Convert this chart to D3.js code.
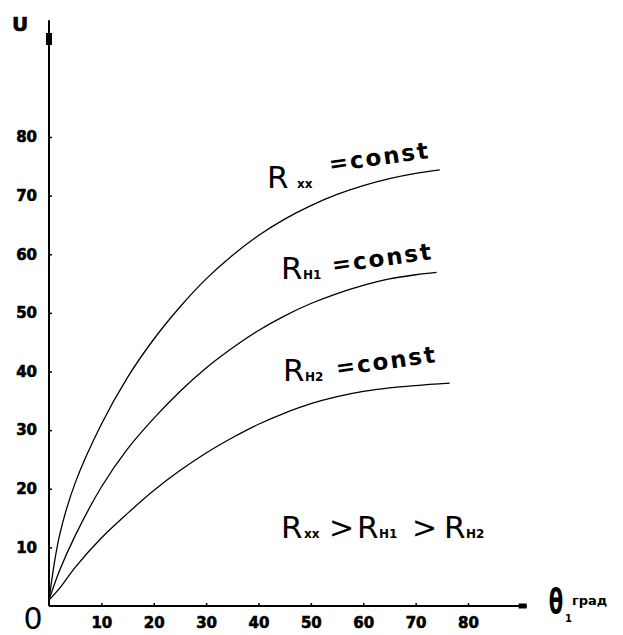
<!DOCTYPE html>
<html>
<head>
<meta charset="utf-8">
<script src="https://cdn.jsdelivr.net/npm/d3@7"></script>
<style>
  html, body { margin: 0; padding: 0; background: #fff; }
  svg { display: block; }
  text { fill: #000; }
</style>
</head>
<body>
<svg id="chart" width="623" height="635"></svg>
<script>
// ---- data ----
const xTicks = [10, 20, 30, 40, 50, 60, 70, 80];
const yTicks = [10, 20, 30, 40, 50, 60, 70, 80];

const thetaXX = [0, 2, 5, 10, 15, 20, 25, 30, 35, 40, 45, 50, 55, 60, 65, 70, 74.6];
const uXX     = [1, 12, 21, 31, 39, 45.5, 51, 55.8, 59.8, 63.2, 66, 68.3, 70.2, 71.7, 72.9, 73.8, 74.4];

const thetaH1 = [0, 2, 5, 10, 15, 20, 25, 30, 35, 40, 45, 50, 55, 60, 65, 70, 74];
const uH1     = [1, 6, 12, 20.3, 26.8, 32, 36.6, 40.6, 44, 47, 49.5, 51.6, 53.3, 54.7, 55.8, 56.5, 56.9];

const thetaH2 = [0, 2, 5, 10, 15, 20, 25, 30, 35, 40, 45, 50, 55, 60, 65, 70, 76.5];
const uH2     = [1, 3, 6.6, 11.6, 15.8, 19.7, 23.1, 26.1, 28.7, 31, 32.9, 34.5, 35.7, 36.6, 37.2, 37.6, 38];

const series = [
  { name: "Rхх", theta: thetaXX, u: uXX },
  { name: "Rн1", theta: thetaH1, u: uH1 },
  { name: "Rн2", theta: thetaH2, u: uH2 }
];

// ---- layout ----
const svg = d3.select("#chart");
const x = d3.scaleLinear().domain([0, 80]).range([49, 468]);
const y = d3.scaleLinear().domain([0, 80]).range([606, 137]);
const xAxisEnd = 91.2;
const yAxisEnd = 99.9;

svg.append("line")
  .attr("x1", x(0)).attr("x2", x(xAxisEnd))
  .attr("y1", y(0)).attr("y2", y(0))
  .attr("stroke", "#000").attr("stroke-width", 2);
svg.append("line")
  .attr("x1", x(0)).attr("x2", x(0))
  .attr("y1", y(0)).attr("y2", y(yAxisEnd))
  .attr("stroke", "#000").attr("stroke-width", 2);

svg.append("rect").attr("x", x(xAxisEnd) - 8).attr("y", y(0) - 2.5)
  .attr("width", 8).attr("height", 5).attr("fill", "#000");
svg.append("rect").attr("x", x(0) - 3).attr("y", 33)
  .attr("width", 6).attr("height", 12).attr("fill", "#000");

const gx = svg.append("g").attr("transform", `translate(0,${y(0)})`)
  .call(d3.axisBottom(x).tickValues(xTicks).tickSize(-3).tickSizeOuter(0).tickPadding(11));
gx.select(".domain").remove();
gx.selectAll("text").attr("font-family", "DejaVu Sans").attr("font-weight", "bold").attr("font-size", 15)
  .attr("stroke", "#000").attr("stroke-width", 0.6);
gx.selectAll("line").attr("stroke-width", 1.5);

const gy = svg.append("g").attr("transform", `translate(${x(0)},0)`)
  .call(d3.axisLeft(y).tickValues(yTicks).tickSize(-3).tickSizeOuter(0).tickPadding(12));
gy.select(".domain").remove();
gy.selectAll("text").attr("font-family", "DejaVu Sans").attr("font-weight", "bold").attr("font-size", 15)
  .attr("stroke", "#000").attr("stroke-width", 0.6);
gy.selectAll("line").attr("stroke-width", 1.5);

svg.append("text").attr("x", 33).attr("y", 629).attr("text-anchor", "middle")
  .attr("font-family", "DejaVu Sans").attr("font-size", 30).text("0");

svg.append("text").attr("x", 20).attr("y", 31).attr("text-anchor", "middle")
  .attr("font-family", "DejaVu Sans").attr("font-weight", "bold").attr("font-size", 20)
  .attr("stroke", "#000").attr("stroke-width", 0.6).text("U");

svg.append("text").attr("transform", "translate(556,614) scale(0.62,1.05)")
  .attr("text-anchor", "middle")
  .attr("font-family", "DejaVu Sans").attr("font-weight", "bold").attr("font-size", 34).text("θ");
svg.append("text").attr("x", 565).attr("y", 622)
  .attr("font-family", "DejaVu Sans").attr("font-weight", "bold").attr("font-size", 10).text("1");
svg.append("text").attr("x", 572).attr("y", 605)
  .attr("font-family", "DejaVu Sans").attr("font-weight", "bold").attr("font-size", 13).text("град");

const line = d3.line()
  .x(d => x(d[0])).y(d => y(d[1]))
  .curve(d3.curveCatmullRom.alpha(0.5));
svg.append("g").selectAll("path")
  .data(series)
  .join("path")
  .attr("d", s => line(s.theta.map((t, i) => [t, s.u[i]])))
  .attr("fill", "none").attr("stroke", "#000").attr("stroke-width", 1.3);

function rLabel(xr, yr, sub, subDx, xc, yc) {
  svg.append("text").attr("x", xr).attr("y", yr)
    .attr("font-family", "DejaVu Sans").attr("font-size", 31).text("R");
  svg.append("text").attr("x", xr + subDx).attr("y", yr)
    .attr("font-family", "DejaVu Sans").attr("font-weight", "bold").attr("font-size", 12).text(sub);
  svg.append("text").attr("transform", `translate(${xc},${yc}) rotate(-8)`)
    .attr("font-family", "DejaVu Sans").attr("font-weight", "bold").attr("font-size", 23)
    .attr("letter-spacing", 2).text("=const");
}
rLabel(267, 188, "хх", 30, 330, 172);
rLabel(281, 279, "Н1", 22, 333, 273);
rLabel(283, 381, "Н2", 22, 337, 376);

function relPart(xp, txt, kind) {
  const t = svg.append("text").attr("x", xp).attr("y", 538).attr("font-family", "DejaVu Sans");
  if (kind === "R") t.attr("font-size", 31);
  else if (kind === "sub") t.attr("font-size", 12).attr("font-weight", "bold");
  else t.attr("font-size", 30);
  t.text(txt);
}
relPart(281, "R", "R");   relPart(304, "хх", "sub");
relPart(329, ">", "gt");
relPart(357, "R", "R");   relPart(379, "Н1", "sub");
relPart(412, ">", "gt");
relPart(444, "R", "R");   relPart(466, "Н2", "sub");
</script>
</body>
</html>
